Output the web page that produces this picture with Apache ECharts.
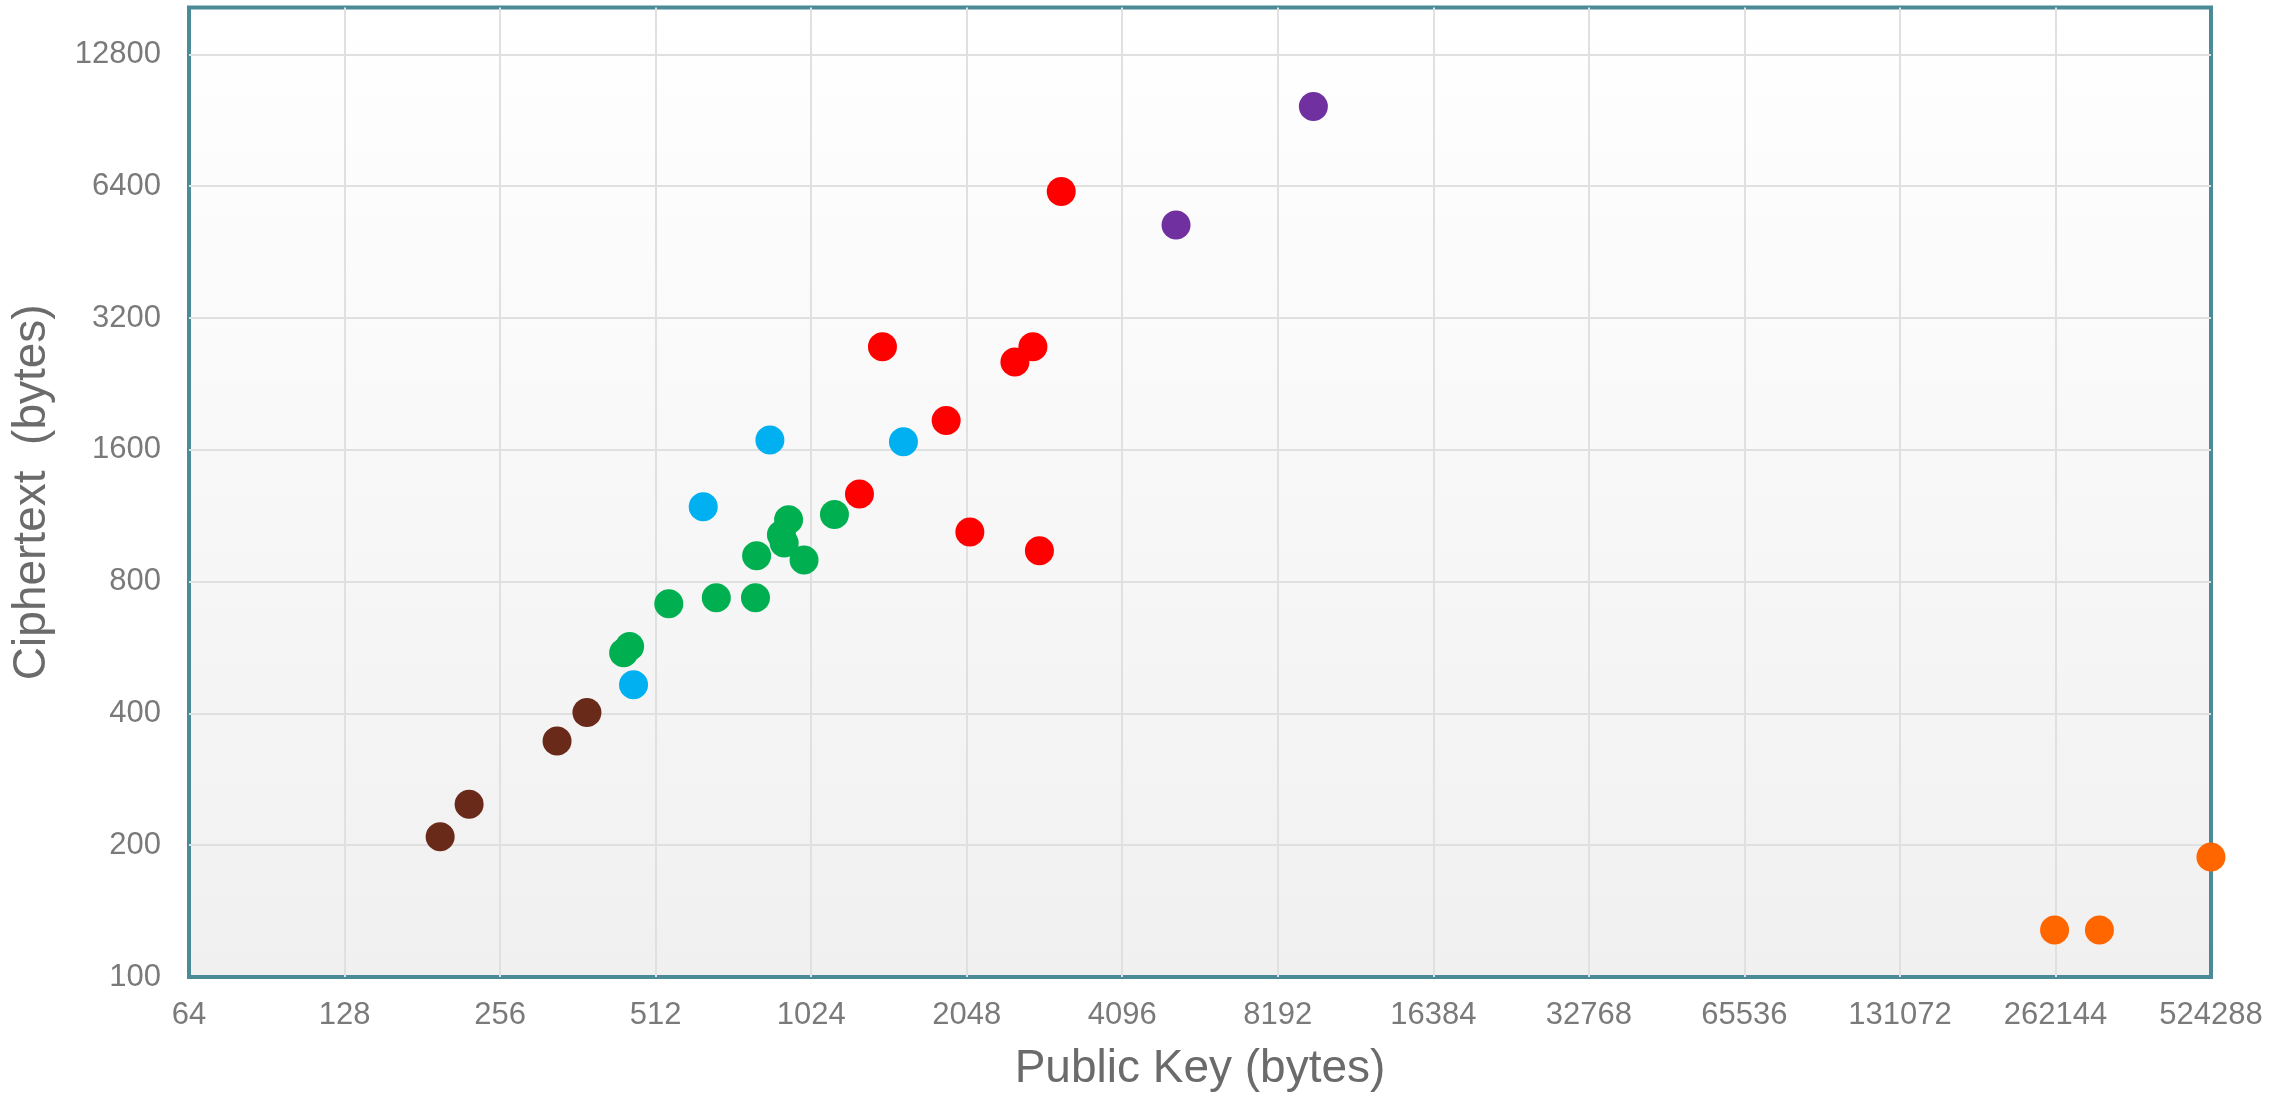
<!DOCTYPE html>
<html>
<head>
<meta charset="utf-8">
<title>Public key vs ciphertext size</title>
<script src="https://cdn.jsdelivr.net/npm/echarts@6/dist/echarts.min.js"></script>
<style>
  html, body { margin: 0; padding: 0; background: #ffffff; }
  #chart { width: 2272px; height: 1097px; }
</style>
</head>
<body>
<div id="chart"></div>
<script>
// Public key size vs ciphertext size (bytes), one group per scheme family
const brownKeys = [196, 223, 330, 377];
const brownCts  = [209, 248, 346, 402];

const greenKeys = [444, 456, 543, 671, 799, 803, 897, 908, 926, 992, 1136];
const greenCts  = [550, 569, 712, 735, 735, 917, 1024, 980, 1108, 896, 1138];

const blueKeys = [464, 633, 852, 1545];
const blueCts  = [465, 1186, 1684, 1669];

const redKeys = [1270, 1407, 1869, 2077, 2539, 2751, 2832, 3121];
const redCts  = [1268, 2750, 1867, 1039, 2538, 2750, 941, 6222];

const purpleKeys = [5206, 9601];
const purpleCts  = [5222, 9737];

const orangeKeys = [261120, 318900, 524160];
const orangeCts  = [128, 128, 188];

// Axis tick labels
const xTicks = [64, 128, 256, 512, 1024, 2048, 4096, 8192, 16384, 32768, 65536, 131072, 262144, 524288];
const yTicks = [100, 200, 400, 800, 1600, 3200, 6400, 12800];

// Grid lines sit on the inner ticks only, so the plot frame stays visible
const xGrid = xTicks.slice(1, -1);
const yGrid = yTicks.slice(1);

const groups = [
  { keys: brownKeys,  cts: brownCts,  color: '#6a2a1a' },
  { keys: greenKeys,  cts: greenCts,  color: '#00b050' },
  { keys: blueKeys,   cts: blueCts,   color: '#00b0f0' },
  { keys: redKeys,    cts: redCts,    color: '#ff0000' },
  { keys: purpleKeys, cts: purpleCts, color: '#7030a0' },
  { keys: orangeKeys, cts: orangeCts, color: '#ff6600' }
];

const pair = (a, b) => a.map((v, i) => [v, b[i]]);

const font = '"Liberation Sans", Arial, sans-serif';

const chart = echarts.init(document.getElementById('chart'), null, { renderer: 'canvas' });

chart.setOption({
  animation: false,
  backgroundColor: '#ffffff',
  grid: {
    left: 189,
    right: 61,
    top: 7.5,
    bottom: 120,
    show: true,
    borderColor: '#4b8b97',
    borderWidth: 4,
    backgroundColor: {
      type: 'linear', x: 0, y: 0, x2: 0, y2: 1,
      colorStops: [
        { offset: 0, color: '#ffffff' },
        { offset: 1, color: '#f0f0f0' }
      ]
    }
  },
  xAxis: {
    type: 'log',
    logBase: 2,
    min: 64,
    max: 524288,
    interval: 1,
    name: 'Public Key (bytes)',
    nameLocation: 'middle',
    nameGap: 69,
    nameTextStyle: { fontFamily: font, fontSize: 46, color: '#6b6b6b' },
    axisLine: { show: false },
    axisTick: { show: false, customValues: xGrid },
    axisLabel: {
      customValues: xTicks,
      fontFamily: font, fontSize: 31, color: '#7a7a7a', margin: 23,
      formatter: v => String(Math.round(v))
    },
    splitLine: { show: true, lineStyle: { color: '#e0e0e0', width: 2 } }
  },
  yAxis: {
    type: 'log',
    logBase: 2,
    min: 100,
    max: 16384,
    name: 'Ciphertext  (bytes)',
    nameLocation: 'middle',
    nameGap: 134,
    nameTextStyle: { fontFamily: font, fontSize: 46, color: '#6b6b6b' },
    axisLine: { show: false },
    axisTick: { show: false, customValues: yGrid },
    axisLabel: {
      customValues: yTicks,
      fontFamily: font, fontSize: 31, color: '#7a7a7a', margin: 28,
      formatter: v => String(Math.round(v))
    },
    splitLine: { show: true, lineStyle: { color: '#e0e0e0', width: 2 } }
  },
  series: groups.map(g => ({
    type: 'scatter',
    symbol: 'circle',
    symbolSize: 29,
    clip: false,
    itemStyle: { color: g.color, opacity: 1 },
    data: pair(g.keys, g.cts)
  }))
});
</script>
</body>
</html>
